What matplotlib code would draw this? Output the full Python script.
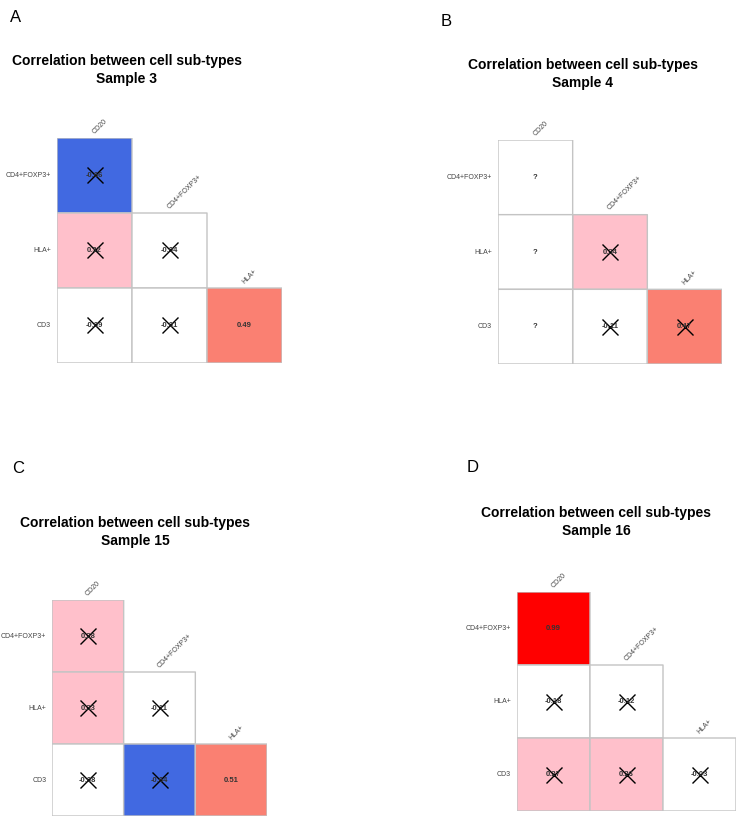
import numpy as np
import matplotlib.pyplot as plt
from matplotlib.colors import ListedColormap, BoundaryNorm

plt.rcParams["font.family"] = ["Liberation Sans", "DejaVu Sans"]

rows = ["CD4+FOXP3+", "HLA+", "CD3"]
cols = ["CD20", "CD4+FOXP3+", "HLA+"]

# lower-triangle correlations, row by row (nan = not computable)
corr_s3 = [[-0.66], [0.32, -0.04], [-0.09, -0.01, 0.49]]
corr_s4 = [[np.nan], [np.nan, 0.34], [np.nan, -0.11, 0.47]]
corr_s15 = [[0.28], [0.33, -0.11], [-0.08, -0.64, 0.51]]
corr_s16 = [[0.99], [-0.18, -0.12], [0.27, 0.26, -0.03]]

# True = significant (no cross)
sig_s3 = [[False], [False, False], [False, False, True]]
sig_s4 = [[True], [True, False], [True, False, False]]
sig_s15 = [[False], [False, False], [False, False, True]]
sig_s16 = [[True], [False, False], [False, False, False]]

panels = [
    ("A", "Sample 3", corr_s3, sig_s3),
    ("B", "Sample 4", corr_s4, sig_s4),
    ("C", "Sample 15", corr_s15, sig_s15),
    ("D", "Sample 16", corr_s16, sig_s16),
]

bounds = [-1, -0.6, -0.2, 0.2, 0.4, 0.6, 0.8, 1.0]
colors = ["royalblue", "lightsteelblue", "white", "pink", "salmon", "tomato", "red"]
cmap = ListedColormap(colors)
norm = BoundaryNorm(bounds, cmap.N)

W, H = 739, 821
fig = plt.figure(figsize=(W / 100, H / 100), dpi=100)

# pixel boxes: grid (left, top, right, bottom), letter pos, title centre
layout = {
    "A": ((57, 138, 282, 363), (10, 18), (127, 70)),
    "B": ((498, 140, 722, 364), (441, 22), (583, 74)),
    "C": ((52, 600, 267, 816), (12, 468), (135, 532)),
    "D": ((517, 592, 736, 811), (467, 467), (596, 522)),
}


def to_matrix(tri):
    m = np.full((3, 3), np.nan)
    for i, r in enumerate(tri):
        for j, v in enumerate(r):
            m[i, j] = v
    return m


upper = np.triu(np.ones((3, 3), bool), k=1)

for letter, sample, tri, sig_tri in panels:
    (l, t, r, b), (lx, ly), (tx, ty) = layout[letter]
    ax = fig.add_axes([l / W, 1 - b / H, (r - l) / W, (b - t) / H])
    m = to_matrix(tri)
    sig = to_matrix([[float(s) for s in row] for row in sig_tri])

    vals = np.ma.array(m, mask=upper | np.isnan(m))
    ax.pcolor(vals, cmap=cmap, norm=norm, edgecolors="#c4c4c4", linewidth=1)
    na = np.ma.array(np.zeros((3, 3)), mask=upper | ~np.isnan(m))
    ax.pcolor(na, cmap=ListedColormap(["white"]), edgecolors="#c4c4c4", linewidth=1)

    for i in range(3):
        for j in range(i + 1):
            v = m[i, j]
            txt = "?" if np.isnan(v) else f"{v:.2f}"
            ax.text(j + 0.5, i + 0.5, txt, ha="center", va="center",
                    fontsize=5.5, fontweight="bold", color="#333333")
            if not np.isnan(v) and sig[i, j] == 0:
                ax.plot(j + 0.5, i + 0.5, marker="x", markersize=11,
                        mew=1.0, color="black", linestyle="none")

    for i, name in enumerate(rows):
        ax.text(-0.08, i + 0.5, name, ha="right", va="center",
                fontsize=5, color="#444444")
    for j, name in enumerate(cols):
        ax.text(j + 0.52, j - 0.04, name, ha="left", va="bottom",
                rotation=45, rotation_mode="anchor",
                fontsize=5, color="#444444")

    ax.set_xlim(0, 3)
    ax.set_ylim(3, 0)
    ax.axis("off")

    fig.text(lx / W, 1 - ly / H, letter, ha="left", va="center", fontsize=12)
    fig.text(tx / W, 1 - ty / H,
             "Correlation between cell sub-types\n" + sample,
             ha="center", va="center", fontsize=10, fontweight="bold",
             linespacing=1.3)

fig.savefig("out.png", dpi=100)
